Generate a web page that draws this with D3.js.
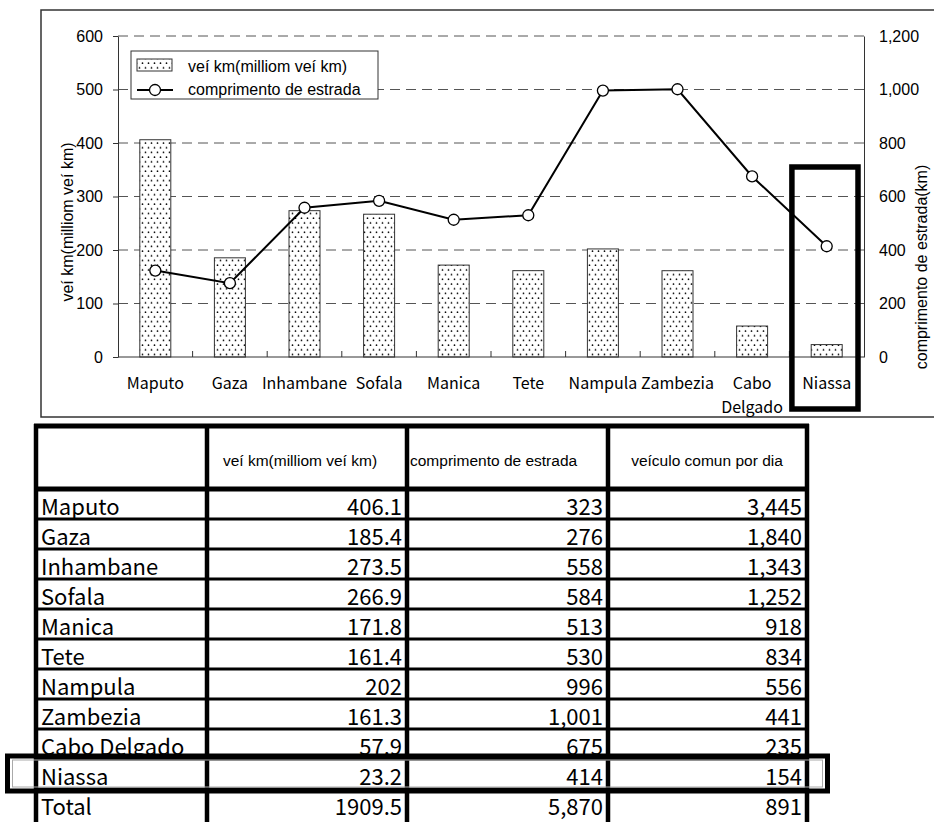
<!DOCTYPE html>
<html><head><meta charset="utf-8">
<script src="https://cdn.jsdelivr.net/npm/d3@7/dist/d3.min.js"></script>
<style>body{margin:0;background:#fff}svg{display:block}</style>
</head><body><svg id="c" width="934" height="822"></svg>
<script>
const categories = ["Maputo","Gaza","Inhambane","Sofala","Manica","Tete","Nampula","Zambezia","Cabo Delgado","Niassa"];
const vehKm = [406.1,185.4,273.5,266.9,171.8,161.4,202,161.3,57.9,23.2];
const roadLength = [323,276,558,584,513,530,996,1001,675,414];
const vehPerDay = [3445,1840,1343,1252,918,834,556,441,235,154];
const totalLabel = "Total";
const totalVehKm = 1909.5, totalRoad = 5870, totalPerDay = 891;
const leftTicks = [0,100,200,300,400,500,600];
const rightTicks = [0,200,400,600,800,1000,1200];
const seriesNames = ["veí km(milliom veí km)","comprimento de estrada"];
const leftTitle = "veí km(milliom veí km)";
const rightTitle = "comprimento de estrada(km)";
const tableHeaders = ["", "veí km(milliom veí km)", "comprimento de estrada", "veículo comun por dia"];
const highlight = "Niassa";

const SANS = "'Liberation Sans', Arial, sans-serif";
const JP = "'Noto Sans CJK JP', sans-serif";
const svg = d3.select("#c");

// pattern
const defs = svg.append("defs");
const pat = defs.append("pattern").attr("id","dots").attr("patternUnits","userSpaceOnUse")
  .attr("width",6).attr("height",9.4);
pat.append("rect").attr("width",6).attr("height",9.4).attr("fill","#fff");
pat.append("circle").attr("cx",1.5).attr("cy",2).attr("r",0.85).attr("fill","#000");
pat.append("circle").attr("cx",4.5).attr("cy",6.7).attr("r",0.85).attr("fill","#000");

// chart frame
svg.append("rect").attr("x",41).attr("y",10).attr("width",910).attr("height",407)
  .attr("fill","#fff").attr("stroke","#333").attr("stroke-width",1.5);

const P = {l:118, r:864, t:36, b:357};
const x = d3.scaleBand().domain(categories).range([P.l,P.r]);
const yL = d3.scaleLinear().domain([0,600]).range([P.b,P.t]);
const yR = d3.scaleLinear().domain([0,1200]).range([P.b,P.t]);
const cx = c => x(c) + x.bandwidth()/2;

// gridlines
svg.append("g").selectAll("line").data(leftTicks.filter(t=>t>0)).join("line")
  .attr("x1",P.l).attr("x2",P.r).attr("y1",d=>yL(d)).attr("y2",d=>yL(d))
  .attr("stroke","#555").attr("stroke-width",1).attr("stroke-dasharray","10,6");

// bars
const barW = 31;
svg.append("g").selectAll("rect").data(categories).join("rect")
  .attr("x",c=>cx(c)-barW/2).attr("width",barW)
  .attr("y",(c,i)=>yL(vehKm[i])).attr("height",(c,i)=>P.b-yL(vehKm[i]))
  .attr("fill","url(#dots)").attr("stroke","#333").attr("stroke-width",1);

// left axis
const gL = svg.append("g").attr("transform",`translate(${P.l},0)`)
  .call(d3.axisLeft(yL).tickValues(leftTicks).tickSize(5).tickSizeOuter(0).tickPadding(10));
gL.selectAll("text").attr("font-family",SANS).attr("font-size",16).attr("fill","#000");
gL.selectAll("line,path").attr("stroke","#333");

// right axis
const gR = svg.append("g").attr("transform",`translate(${P.r},0)`)
  .call(d3.axisRight(yR).tickValues(rightTicks).tickSize(0).tickSizeOuter(0).tickPadding(15).tickFormat(d3.format(",")));
gR.selectAll("text").attr("font-family",SANS).attr("font-size",16).attr("fill","#000");
gR.selectAll("line,path").attr("stroke","#333");

// x axis
svg.append("line").attr("x1",P.l).attr("x2",P.r).attr("y1",P.b).attr("y2",P.b).attr("stroke","#333");
svg.append("g").selectAll("line").data(categories.slice(1)).join("line")
  .attr("x1",c=>x(c)).attr("x2",c=>x(c)).attr("y1",P.b).attr("y2",P.b-6).attr("stroke","#333");
// category labels (multi-word labels wrap onto separate text lines)
const labelLines = categories.flatMap(c => c.split(" ").map((w,i)=>({c, w, i})));
svg.append("g").selectAll("text").data(labelLines).join("text")
  .attr("x",d=>cx(d.c)).attr("y",d=>389 + d.i*23.5).attr("text-anchor","middle")
  .attr("font-family",JP).attr("font-size",16).attr("fill","#000").text(d=>d.w);

// line
const line = d3.line().x((d,i)=>cx(categories[i])).y(d=>yR(d));
svg.append("path").datum(roadLength).attr("d",line).attr("fill","none")
  .attr("stroke","#000").attr("stroke-width",2);
svg.append("g").selectAll("circle").data(roadLength).join("circle")
  .attr("cx",(d,i)=>cx(categories[i])).attr("cy",d=>yR(d)).attr("r",5.5)
  .attr("fill","#fff").attr("stroke","#000").attr("stroke-width",1.3);

// legend
const lg = svg.append("g");
lg.append("rect").attr("x",131).attr("y",51).attr("width",247).attr("height",48)
  .attr("fill","#fff").attr("stroke","#333").attr("stroke-width",1);
lg.append("rect").attr("x",137).attr("y",59).attr("width",35).attr("height",12)
  .attr("fill","url(#dots)").attr("stroke","#333");
lg.append("line").attr("x1",137).attr("x2",173).attr("y1",90).attr("y2",90).attr("stroke","#000").attr("stroke-width",2);
lg.append("circle").attr("cx",155).attr("cy",90).attr("r",5.5).attr("fill","#fff").attr("stroke","#000").attr("stroke-width",1.3);
lg.selectAll("text.l").data(seriesNames).join("text").attr("class","l")
  .attr("x",188).attr("y",(d,i)=>i===0?72:95).text(d=>d)
  .attr("font-family",SANS).attr("font-size",16).attr("fill","#000");

// axis titles
svg.append("text").attr("transform","translate(73,222) rotate(-90)").attr("text-anchor","middle")
  .attr("font-family",SANS).attr("font-size",16).text(leftTitle);
svg.append("text").attr("transform","translate(927,267) rotate(-90)").attr("text-anchor","middle")
  .attr("font-family",SANS).attr("font-size",16).text(rightTitle);

// highlight on chart
svg.append("rect").attr("x",x(highlight)+2.5).attr("y",167).attr("width",x.bandwidth()-8.5).attr("height",242)
  .attr("fill","none").attr("stroke","#000").attr("stroke-width",5.5);

// ---------- table ----------
const colEdges = [36,207,407,608,807];
const rowNames = categories.concat([totalLabel]);
const col2 = vehKm.map(String).concat([String(totalVehKm)]);
const col3 = roadLength.map(d3.format(",")).concat([d3.format(",")(totalRoad)]);
const col4 = vehPerDay.map(d3.format(",")).concat([d3.format(",")(totalPerDay)]);
const headTop = 426, headBot = 489;
const ry = d3.scaleBand().domain(rowNames).range([headBot, headBot + rowNames.length*30]);
const T = svg.append("g");
T.append("rect").attr("x",colEdges[0]).attr("y",headTop).attr("width",colEdges[4]-colEdges[0]).attr("height",430).attr("fill","#fff");

// header texts
const H = T.append("g").attr("font-family",SANS).attr("font-size",15.5).attr("fill","#000");
H.append("text").attr("x",300).attr("y",466).attr("text-anchor","middle").text(tableHeaders[1]);
H.append("text").attr("x",410).attr("y",466).attr("text-anchor","start").text(tableHeaders[2]);
H.append("text").attr("x",707).attr("y",466).attr("text-anchor","middle").text(tableHeaders[3]);

// rows
const rows = T.append("g").selectAll("g").data(rowNames).join("g");
rows.append("text").attr("x",41).attr("y",r=>ry(r)+ry.bandwidth()-4).text(r=>r)
  .attr("font-family",JP).attr("font-size",22).attr("fill","#000");
[col2,col3,col4].forEach((col,ci)=>{
  rows.append("text").attr("x",colEdges[ci+2]-5).attr("y",r=>ry(r)+ry.bandwidth()-4)
    .attr("text-anchor","end").text((r,i)=>col[i])
    .attr("font-family",JP).attr("font-size",22).attr("fill","#000");
});

// row lines
T.append("g").selectAll("line").data(rowNames.slice(1)).join("line")
  .attr("x1",colEdges[0]).attr("x2",colEdges[4]).attr("y1",r=>ry(r)).attr("y2",r=>ry(r))
  .attr("stroke","#000").attr("stroke-width",3);
T.append("line").attr("x1",colEdges[0]-2).attr("x2",colEdges[4]+2).attr("y1",headTop).attr("y2",headTop).attr("stroke","#000").attr("stroke-width",5);
T.append("line").attr("x1",colEdges[0]).attr("x2",colEdges[4]).attr("y1",headBot).attr("y2",headBot).attr("stroke","#000").attr("stroke-width",5);
T.append("g").selectAll("line").data(colEdges).join("line")
  .attr("x1",d=>d).attr("x2",d=>d).attr("y1",headTop-2).attr("y2",830)
  .attr("stroke","#000").attr("stroke-width",4.5);

// highlight on table
const hy = ry(highlight);
T.append("rect").attr("x",12.5).attr("y",hy+1).attr("width",810).attr("height",ry.bandwidth()-3)
  .attr("fill","none").attr("stroke","#aaa").attr("stroke-width",1);
T.append("rect").attr("x",7.5).attr("y",hy-3).attr("width",820).attr("height",ry.bandwidth()+5)
  .attr("fill","none").attr("stroke","#000").attr("stroke-width",5);
</script></body></html>
